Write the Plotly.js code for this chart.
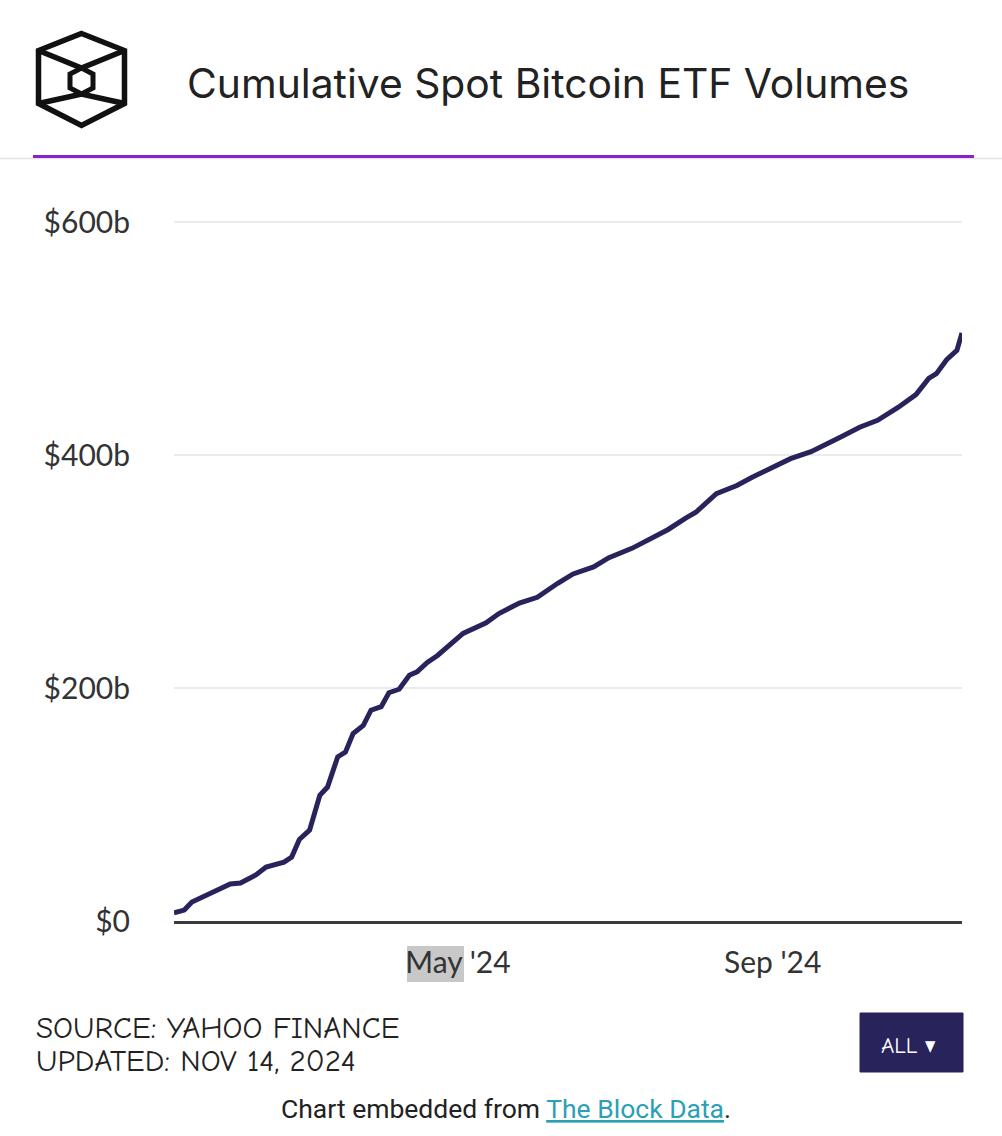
<!DOCTYPE html>
<html>
<head>
<meta charset="utf-8">
<script src="https://cdn.plot.ly/plotly-3.0.1.min.js"></script>
<style>
html,body{margin:0;padding:0;background:#fff;}
#chart{width:1002px;height:1136px;}
</style>
</head>
<body>
<div id="chart"></div>
<script>
// ---- data ----
const dates = [
 '2024-01-11','2024-01-15','2024-01-18','2024-01-26','2024-02-02','2024-02-06',
 '2024-02-12','2024-02-16','2024-02-23','2024-02-26','2024-02-29','2024-03-04',
 '2024-03-06','2024-03-08','2024-03-11','2024-03-15','2024-03-18','2024-03-21',
 '2024-03-25','2024-03-28','2024-04-01','2024-04-04','2024-04-08','2024-04-12',
 '2024-04-15','2024-04-19','2024-04-23','2024-04-28','2024-05-03','2024-05-12',
 '2024-05-17','2024-05-25','2024-06-01','2024-06-09','2024-06-15','2024-06-23',
 '2024-06-29','2024-07-08','2024-07-16','2024-07-22','2024-07-29','2024-08-02',
 '2024-08-10','2024-08-18','2024-08-24','2024-09-01','2024-09-08','2024-09-16',
 '2024-09-22','2024-09-28','2024-10-05','2024-10-12','2024-10-20','2024-10-27',
 '2024-11-01','2024-11-04','2024-11-08','2024-11-12','2024-11-14'
];
const cumulativeVolumeB = [
 6.9, 9.4, 16.3, 24.9, 31.8, 32.6,
 39.5, 46.4, 50.6, 54.9, 70, 78,
 93, 108, 115, 141, 145, 161,
 168, 181, 184, 196, 199, 211,
 214, 222, 228, 237, 247, 256,
 264, 273, 278, 290, 298, 304,
 312, 320, 329, 336, 346, 351,
 367, 374, 381, 390, 397, 403,
 409, 416, 424, 430, 441, 452,
 466, 470, 482, 490, 505
];
const yTickVals = [0, 200, 400, 600];
const yTickText = ['$0', '$200b', '$400b', '$600b'];
const xTickVals = ['2024-05-01', '2024-09-01'];
const xTickText = ["May '24", "Sep '24"];
const xRange = ['2024-01-11', '2024-11-14'];
const yRange = [0, 620];

// ---- layout geometry (pixels) ----
const W = 1002, H = 1136;
const L = 174, R = 40, T = 199, B = 215;
const pw = W - L - R, ph = H - T - B;
const px = x => (x - L) / pw;
const py = y => (H - B - y) / ph;
const pt = (x, y) => px(x).toFixed(5) + ',' + py(y).toFixed(5);

// logo (hexagon + inner hexagon + X)
const outer = [[81.5,33.5],[124.5,50.5],[124.5,103.5],[81.5,125.5],[38.5,103.5],[38.5,50.5]];
const inner = [[81.5,68],[93,74],[93,88],[81.5,94],[70,88],[70,74]];
const poly = p => 'M' + p.map(q => pt(q[0], q[1])).join('L') + 'Z';
const logoLines = 'M' + pt(38.5,50.5) + 'L' + pt(81.5,68) + 'L' + pt(124.5,50.5) +
                  'M' + pt(38.5,103.5) + 'L' + pt(81.5,94) + 'L' + pt(124.5,103.5);

const comic = '"Comic Neue","Comic Sans MS","DejaVu Sans Condensed","Liberation Sans Narrow",sans-serif';
const tickFont = {family: 'Lato, "Noto Sans", sans-serif', size: 30, color: '#333'};

const shapes = [
  {type:'path', xref:'paper', yref:'paper', path: poly(outer), line:{color:'#111', width:5.5}},
  {type:'path', xref:'paper', yref:'paper', path: poly(inner), line:{color:'#111', width:5}},
  {type:'path', xref:'paper', yref:'paper', path: logoLines, line:{color:'#111', width:5.5}},
  // header divider lines
  {type:'line', xref:'paper', yref:'paper', x0:px(0), x1:px(1002), y0:py(158.5), y1:py(158.5), line:{color:'#e8dfe8', width:1.5}},
  {type:'line', xref:'paper', yref:'paper', x0:px(33), x1:px(974), y0:py(156.5), y1:py(156.5), line:{color:'#8a22c9', width:3}},
  // text-selection highlight behind "May"
  {type:'rect', xref:'paper', yref:'paper', x0:px(407), x1:px(464), y0:py(982), y1:py(946), fillcolor:'#c8c8c8', line:{width:0}, layer:'below'},
  // ALL button
  {type:'rect', xref:'paper', yref:'paper', x0:px(860), x1:px(963), y0:py(1072), y1:py(1013), fillcolor:'#29235c', line:{color:'#29235c', width:1}}
];

const annotations = [
  {xref:'paper', yref:'paper', x:px(35), y:py(1027), xanchor:'left', yanchor:'middle', showarrow:false,
   borderpad:0, height:29,
   text:'SOURCE: YAHOO FINANCE', font:{family:comic, size:31, color:'#222'}},
  {xref:'paper', yref:'paper', x:px(35), y:py(1060), xanchor:'left', yanchor:'middle', showarrow:false,
   borderpad:0, height:29,
   text:'UPDATED: NOV 14, 2024', font:{family:comic, size:31, color:'#222'}},
  {xref:'paper', yref:'paper', x:px(908), y:py(1045), xanchor:'center', yanchor:'middle', showarrow:false,
   text:'ALL ▾', font:{family:comic, size:23, color:'#fff'}},
  {xref:'paper', yref:'paper', x:px(506), y:py(1108), xanchor:'center', yanchor:'middle', showarrow:false,
   text:'Chart embedded from <span style="color:#2b9fb3"><u>The Block Data</u></span>.',
   font:{family:'Roboto, "Noto Sans", sans-serif', size:26.5, color:'#222'}}
];

const trace = {
  x: dates, y: cumulativeVolumeB, type:'scatter', mode:'lines',
  line:{color:'#29235c', width:5}, hoverinfo:'skip'
};

const layout = {
  width: W, height: H,
  margin: {l:L, r:R, t:T, b:B, pad:0},
  paper_bgcolor:'#fff', plot_bgcolor:'#fff',
  showlegend:false,
  title: {text:'Cumulative Spot Bitcoin ETF Volumes', xref:'container', yref:'container',
          x:187/W, xanchor:'left', y:1-84/H, yanchor:'middle',
          font:{family:'Inter, Roboto, sans-serif', size:40.8, color:'#222'}},
  xaxis: {type:'date', range:xRange, tickvals:xTickVals, ticktext:xTickText,
          showgrid:false, zeroline:false, showline:true, linecolor:'#3a3a3a', linewidth:2.5,
          ticks:'outside', ticklen:13, tickcolor:'rgba(0,0,0,0)', tickfont:tickFont, fixedrange:true},
  yaxis: {range:yRange, tickvals:yTickVals, ticktext:yTickText, showgrid:true,
          gridcolor:'#ebebeb', gridwidth:2, zeroline:false, showline:false,
          ticks:'outside', ticklen:37, tickcolor:'rgba(0,0,0,0)', tickfont:tickFont, fixedrange:true},
  shapes: shapes,
  annotations: annotations
};

Plotly.newPlot('chart', [trace], layout, {displayModeBar:false, staticPlot:true});
</script>
</body>
</html>
